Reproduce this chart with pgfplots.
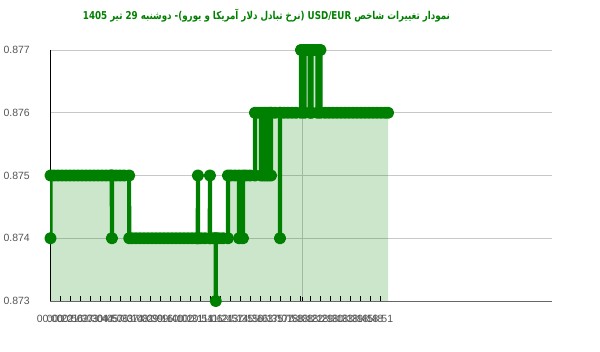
\documentclass[border=0pt]{standalone}
\usepackage{pgfplots}
\pgfplotsset{compat=1.18}
\usepackage{pgfplotstable}
\usepackage{fontspec}
\setmainfont{Liberation Sans}
\newfontfamily\arabicfont[Script=Arabic]{DejaVu Sans}
\TeXXeTstate=1
\definecolor{lg}{HTML}{008000}
\definecolor{gridc}{HTML}{C8C8C8}
\definecolor{labc}{HTML}{555555}

\pgfplotstableread{
x y
0.5 0.874
0.6 0.875
4 0.875
8 0.875
12 0.875
16 0.875
20 0.875
24 0.875
28 0.875
32 0.875
36 0.875
40 0.875
44 0.875
48 0.875
52 0.875
56 0.875
60 0.875
61.8 0.875
61.9 0.874
62.0 0.875
66 0.875
70 0.875
74 0.875
79.1 0.875
79.2 0.874
82 0.874
86 0.874
90 0.874
94 0.874
98 0.874
102 0.874
106 0.874
110 0.874
114 0.874
118 0.874
122 0.874
126 0.874
130 0.874
134 0.874
138 0.874
142 0.874
146 0.874
147.8 0.874
147.9 0.875
148.0 0.874
151 0.874
155 0.874
159.8 0.874
159.9 0.875
160.0 0.874
163 0.874
165.7 0.874
165.8 0.873
165.9 0.874
169 0.874
173 0.874
177.9 0.874
178.0 0.875
181 0.875
185 0.875
189.0 0.875
189.1 0.874
192.9 0.874
193.0 0.875
196 0.875
200 0.875
204.9 0.875
205.0 0.876
208 0.876
210.9 0.876
211.0 0.875
213.4 0.875
213.5 0.876
215.9 0.876
216.0 0.875
218.4 0.875
218.5 0.876
220.9 0.876
221.0 0.875
221.1 0.876
225 0.876
229.9 0.876
230.0 0.874
230.1 0.876
234 0.876
238 0.876
242 0.876
246 0.876
250.9 0.876
251.0 0.877
254.4 0.877
254.5 0.876
254.6 0.877
257 0.877
259.7 0.877
259.8 0.876
259.9 0.877
261.4 0.877
261.5 0.876
261.6 0.877
264 0.877
267.4 0.877
267.5 0.876
267.6 0.877
270.4 0.877
270.5 0.876
275 0.876
279 0.876
283 0.876
287 0.876
291 0.876
295 0.876
299 0.876
303 0.876
307 0.876
311 0.876
315 0.876
319 0.876
323 0.876
327 0.876
331 0.876
335 0.876
338 0.876
}\data

\begin{document}
\begin{tikzpicture}
\useasboundingbox (0,0) rectangle (600bp,352bp);
\begin{axis}[
  at={(50bp,51bp)}, anchor=south west,
  scale only axis, width=502bp, height=251bp,
  xmin=0, xmax=502, ymin=0.873, ymax=0.877,
  axis lines*=left,
  x axis line style={draw=black!60, line width=0.8bp},
  y axis line style={draw=black, line width=0.8bp},
  major tick length=0pt,
  scaled y ticks=false, scaled x ticks=false,
  xtick={0,10,...,330},
  xticklabels={00:00,00:22,00:56,01:37,02:30,03:44,04:57,05:33,06:14,07:02,08:39,09:16,09:40,10:02,10:31,10:54,11:06,11:24,12:57,13:35,14:36,15:03,16:35,17:07,17:58,18:08,18:22,18:29,18:30,18:33,18:39,18:45,18:48,18:51},
  ytick={0.873,0.874,0.875,0.876,0.877},
  yticklabels={0.873,0.874,0.875,0.876,0.877},
  ymajorgrids,
  major grid style={gridc, line width=0.8bp},
  xticklabel style={font=\fontsize{10.5bp}{12bp}\selectfont, text=labc, anchor=center, yshift=-18bp, inner sep=0pt},
  yticklabel style={font=\fontsize{10.5bp}{12bp}\selectfont, text=labc, anchor=east, inner sep=0pt, xshift=-20bp},
]
\draw[gridc, line width=0.8bp] (axis cs:252,0.873) -- (axis cs:252,0.877);
\addplot[fill=lg, fill opacity=0.2, draw=none, forget plot] table[x=x,y=y] {\data} \closedcycle;
\addplot[lg, line width=4.2bp, line join=round, line cap=round, mark=*, mark size=4bp, mark options={solid, fill=lg, draw=none}] table[x=x,y=y] {\data};
\pgfplotsinvokeforeach{0,10,...,330}{
  \draw[black, line width=0.8bp] ([yshift=4.5bp]axis cs:#1,0.873) -- ([yshift=-4.5bp]axis cs:#1,0.873);
}
\pgfplotsinvokeforeach{0.873,0.874,0.875,0.876,0.877}{
  \draw[black, line width=0.8bp] ([xshift=-5bp]axis cs:0,#1) -- (axis cs:0,#1);
}
\draw[black, line width=0.8bp] ([yshift=4bp]axis cs:166,0.873) -- ([yshift=-25bp]axis cs:166,0.873);
\draw[black, line width=0.8bp] ([yshift=4bp]axis cs:252,0.873) -- ([yshift=-25bp]axis cs:252,0.873);
\node[text=labc, font=\fontsize{10.5bp}{12bp}\selectfont, inner sep=0pt] at ([yshift=-32bp]axis cs:166,0.873) {11:10};
\node[text=labc, font=\fontsize{10.5bp}{12bp}\selectfont, inner sep=0pt] at ([yshift=-32bp]axis cs:252,0.873) {18:14};
\end{axis}
\node[text=lg, inner sep=0pt] at (266.5bp,336bp) {\resizebox*{367bp}{13bp}{\arabicfont\bfseries\beginR نمودار تغییرات شاخص \beginL USD/EUR\endL{} (نرخ تبادل دلار آمریکا و یورو)-  دوشنبه  \beginL 29\endL{} تیر \beginL 1405\endL\endR}};
\end{tikzpicture}
\end{document}
